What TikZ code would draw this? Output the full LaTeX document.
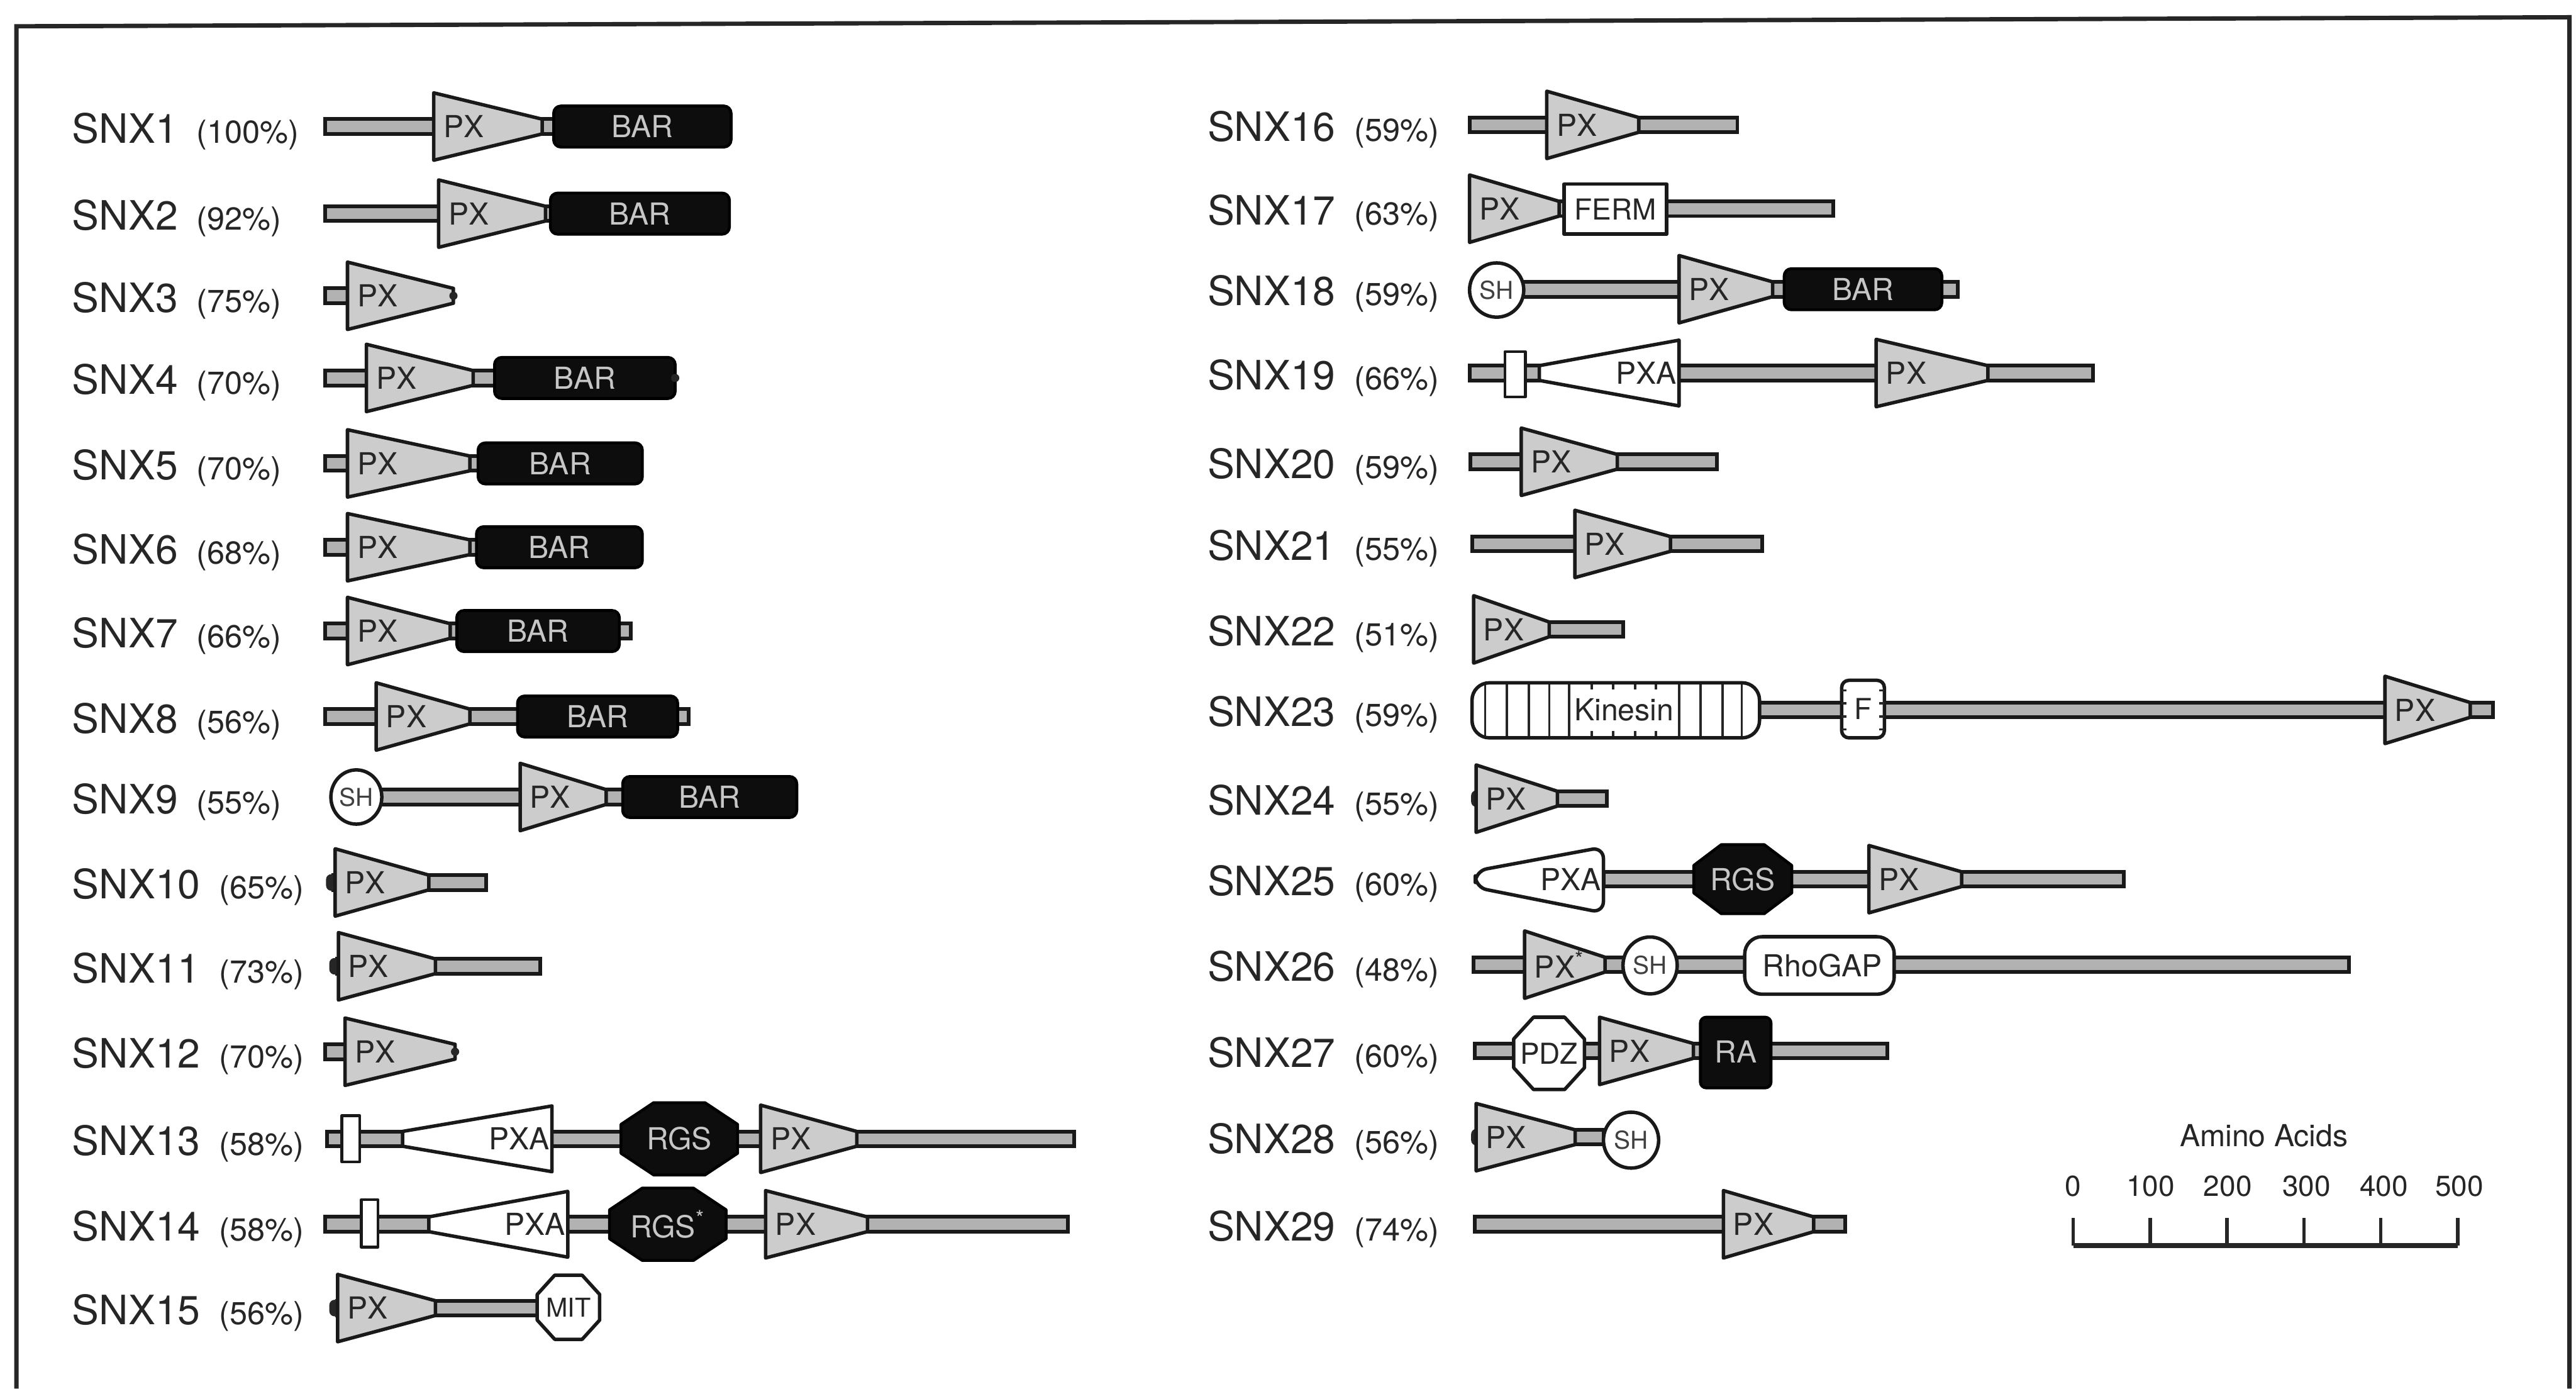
\documentclass[tikz,border=0pt]{standalone}
\usepackage{fontspec}
\setmainfont{TeX Gyre Heros}
\tikzset{
  every node/.style={inner sep=0pt, outer sep=0pt},
  frame/.style={line width=1.5pt, draw=black!85},
  rodst/.style={draw=black!90, fill=gray!60, line width=1.3pt},
  pxst/.style={draw=black!90, fill=gray!40, line width=1.2pt, line join=round},
  whitest/.style={draw=black!90, fill=white, line width=1.2pt, line join=round},
  blackst/.style={draw=black, fill=black!95, line width=1pt, line join=round},
  stubst/.style={fill=black!85, draw=black!85, line width=0.6pt},
  stripest/.style={line width=0.8pt, draw=black!85},
  dtxt/.style={font=\fontsize{10.5}{12}\selectfont, text=black!85},
  ltxt/.style={font=\fontsize{10.5}{12}\selectfont, text=gray!45},
  shtxt/.style={font=\fontsize{8.5}{10}\selectfont, text=black!75},
  labst/.style={anchor=base west, text=black!85},
  scalest/.style={line width=1.8pt, draw=black!85},
  tickst/.style={line width=1.2pt, draw=black!85},
  scaletxt/.style={font=\fontsize{10}{12}\selectfont, text=black!85},
}
% label
\newcommand\snxlab[4]{\node[labst] (#1) at (#2,#3+10) {\fontsize{14}{16}\selectfont #1\hspace{6.5pt}\fontsize{11}{13}\selectfont(#4\%)};}
% rod: x1 x2 y
\newcommand\rod[3]{\draw[rodst] (#1,#3-4.5) rectangle (#2,#3+4.5);}
% PX: x1 x2 y name text
\newcommand\pxd[5]{\draw[pxst] (#1,#3-20.5) -- (#2,#3-4.5) -- (#2,#3+4.5) -- (#1,#3+20.5) -- cycle;
  \node[dtxt, anchor=west] (#4) at (#1+6,#3) {#5};}
% PXA: x1 x2 y name
\newcommand\pxad[4]{\draw[whitest] (#1,#3-4.5) -- (#2,#3-20) -- (#2,#3+20) -- (#1,#3+4.5) -- cycle;
  \node[dtxt, anchor=east] (#4) at (#2-1.5,#3) {PXA};}
% BAR: x1 x2 y name
\newcommand\bard[4]{\draw[blackst, rounded corners=2.5pt] (#1,#3-12.5) rectangle (#2,#3+12.5);
  \node[ltxt] (#4) at ({(#1+#2)/2},#3) {BAR};}
% octagon: x1 x2 y h style textstyle name text
\newcommand\octd[8]{\draw[#5] ({#1+0.28*(#2-#1)},{#3-#4/2}) -- ({#2-0.28*(#2-#1)},{#3-#4/2}) -- (#2,{#3-0.2*#4}) -- (#2,{#3+0.2*#4}) -- ({#2-0.28*(#2-#1)},{#3+#4/2}) -- ({#1+0.28*(#2-#1)},{#3+#4/2}) -- (#1,{#3+0.2*#4}) -- (#1,{#3-0.2*#4}) -- cycle;
  \node[#6] (#7) at ({(#1+#2)/2},#3) {#8};}
% SH: cx cy rx ry name
\newcommand\shd[5]{\draw[whitest] (#1,#2) ellipse [x radius={#3*0.02cm}, y radius={#4*0.02cm}];
  \node[shtxt] (#5) at (#1,#2) {SH};}
% small vertical box: x1 x2 y1 y2
\newcommand\smallrect[4]{\draw[whitest, line width=1pt] (#1,#3) rectangle (#2,#4);}
% dark N-terminal stub: x y
\newcommand\stub[2]{\draw[stubst, rounded corners=1.5pt] (#1,#2-4.5) rectangle (#1+5,#2+4.5);}
\newcommand\tipdot[2]{\fill[black!85] (#1,#2) circle [radius=0.05cm];}

\begin{document}
\begin{tikzpicture}[x=0.02cm, y=-0.02cm]
\useasboundingbox (0,0) rectangle (1568,845);
\fill[white] (0,0) rectangle (1568,845);
\draw[frame] (10,845) -- (10,16) -- (1564,10.5) -- (1564,845);

% ---------------- left column ----------------
% SNX1
\snxlab{SNX1}{44}{77}{100}
\rod{198}{338}{77}
\pxd{264}{330}{77}{px1}{PX}
\bard{337}{445}{77}{bar1}
% SNX2
\snxlab{SNX2}{44}{130}{92}
\rod{198}{336}{130}
\pxd{267}{332}{130}{px2}{PX}
\bard{335}{444}{130}{bar2}
% SNX3
\snxlab{SNX3}{44}{180}{75}
\rod{198}{212}{180}
\pxd{211.5}{276}{180}{px3}{PX}
\tipdot{276}{180}
% SNX4
\snxlab{SNX4}{44}{230}{70}
\rod{198}{302}{230}
\pxd{223}{288}{230}{px4}{PX}
\bard{301}{411}{230}{bar4}
\tipdot{411}{230}
% SNX5
\snxlab{SNX5}{44}{282}{70}
\rod{198}{292}{282}
\pxd{211.5}{286}{282}{px5}{PX}
\bard{291}{391}{282}{bar5}
% SNX6
\snxlab{SNX6}{44}{333}{68}
\rod{198}{291}{333}
\pxd{211.5}{286}{333}{px6}{PX}
\bard{290}{391}{333}{bar6}
% SNX7
\snxlab{SNX7}{44}{384}{66}
\rod{198}{384}{384}
\pxd{211.5}{274}{384}{px7}{PX}
\bard{278}{377}{384}{bar7}
% SNX8
\snxlab{SNX8}{44}{436}{56}
\rod{198}{419}{436}
\pxd{229}{286}{436}{px8}{PX}
\bard{315}{412.5}{436}{bar8}
% SNX9
\snxlab{SNX9}{44}{485}{55}
\rod{217}{383}{485}
\shd{216.9}{485}{15.5}{16.5}{sh9}
\pxd{316.6}{369}{485}{px9}{PX}
\bard{379}{485}{485}{bar9}
% SNX10
\snxlab{SNX10}{44}{537}{65}
\rod{203}{296}{537}
\stub{199}{537}
\pxd{204}{261}{537}{px10}{PX}
% SNX11
\snxlab{SNX11}{44}{588}{73}
\rod{205}{329}{588}
\stub{201}{588}
\pxd{206}{265}{588}{px11}{PX}
% SNX12
\snxlab{SNX12}{44}{640}{70}
\rod{198}{211}{640}
\pxd{210}{277}{640}{px12}{PX}
\tipdot{277}{640}
% SNX13
\snxlab{SNX13}{44}{693}{58}
\rod{199}{654}{693}
\smallrect{208}{219}{679}{707}
\pxad{245}{336}{693}{pxa13}
\octd{378}{449}{693}{44}{blackst}{ltxt}{rgs13}{RGS}
\pxd{463}{521.5}{693}{px13}{PX}
% SNX14
\snxlab{SNX14}{44}{745}{58}
\rod{198}{650}{745}
\smallrect{220}{230}{730}{759}
\pxad{261}{345.6}{745}{pxa14}
\octd{371}{442}{745}{44}{blackst}{ltxt}{rgs14}{RGS\textsuperscript{*}}
\pxd{466}{528}{745}{px14}{PX}
% SNX15
\snxlab{SNX15}{44}{796}{56}
\rod{205}{346}{796}
\stub{201}{796}
\pxd{205.5}{265}{796}{px15}{PX}
\octd{327}{365}{795.5}{39}{whitest}{dtxt, font=\fontsize{9}{10}\selectfont}{mit15}{MIT}

% ---------------- right column ----------------
% SNX16
\snxlab{SNX16}{735}{76}{59}
\rod{894.5}{1057.5}{76}
\pxd{941.5}{997.5}{76}{px16}{PX}
% SNX17
\snxlab{SNX17}{735}{127}{63}
\rod{896}{1115.7}{127}
\pxd{894.5}{949}{127}{px17}{PX}
\draw[whitest] (952,112) rectangle (1014.5,142.5);
\node[dtxt, font=\fontsize{10}{12}\selectfont] (ferm17) at (983.3,127.3) {FERM};
% SNX18
\snxlab{SNX18}{735}{176}{59}
\rod{911}{1191.5}{176}
\shd{911}{176.5}{16.5}{16.5}{sh18}
\pxd{1022}{1079}{176}{px18}{PX}
\bard{1086}{1182}{176}{bar18}
% SNX19
\snxlab{SNX19}{735}{227}{66}
\rod{894.5}{1274}{227}
\smallrect{916}{928.5}{214}{241.5}
\pxad{937}{1022}{227}{pxa19}
\pxd{1142}{1210}{227}{px19}{PX}
% SNX20
\snxlab{SNX20}{735}{281}{59}
\rod{895}{1045}{281}
\pxd{926}{984.4}{281}{px20}{PX}
% SNX21
\snxlab{SNX21}{735}{331}{55}
\rod{896}{1072.7}{331}
\pxd{958.6}{1016.8}{331}{px21}{PX}
% SNX22
\snxlab{SNX22}{735}{383}{51}
\rod{899}{988}{383}
\pxd{897}{943}{383}{px22}{PX}
% SNX23
\snxlab{SNX23}{735}{432}{59}
\rod{1060}{1517.4}{432}
\begin{scope}
  \clip[rounded corners=6pt] (896,415.5) rectangle (1071,449);
  \fill[white] (896,415.5) rectangle (1071,449);
  \foreach \xs in {904,917.3,930.6,943,955,1022,1035,1048.4,1060.2}
    \draw[stripest] (\xs,415.5) -- (\xs,449);
  \foreach \xs in {968.9,982,995.4,1008} {
    \draw[stripest] (\xs,415.5) -- (\xs,419.5);
    \draw[stripest] (\xs,445) -- (\xs,449);}
\end{scope}
\draw[draw=black!90, line width=1.2pt, rounded corners=6pt] (896,415.5) rectangle (1071,449);
\node[dtxt] (kin23) at (988.5,432) {Kinesin};
\draw[whitest, rounded corners=2.5pt] (1121,414) rectangle (1147,449);
\foreach \ys in {420,428,436,444} {
  \draw[line width=0.7pt, black!85] (1121,\ys) -- (1124,\ys);
  \draw[line width=0.7pt, black!85] (1144,\ys) -- (1147,\ys);}
\node[dtxt, font=\fontsize{10}{12}\selectfont] (f23) at (1134,431.5) {F};
\pxd{1451.7}{1503.6}{432}{px23}{PX}
% SNX24
\snxlab{SNX24}{735}{486}{55}
\rod{899}{978}{486}
\stub{896}{486}
\pxd{898.5}{948}{486}{px24}{PX}
% SNX25
\snxlab{SNX25}{735}{535}{60}
\rod{976}{1292.7}{535}
\draw[whitest, rounded corners=4pt] (898,530) -- (976,515.5) -- (976,555.5) -- (898,540) -- cycle;
\node[dtxt, anchor=east] (pxa25) at (974.5,535) {PXA};
\octd{1031}{1090.6}{535}{42}{blackst}{ltxt}{rgs25}{RGS}
\pxd{1137.6}{1194}{535}{px25}{PX}
% SNX26
\snxlab{SNX26}{735}{587}{48}
\rod{897}{1429.7}{587}
\pxd{928}{977}{587}{px26}{PX\textsuperscript{*}}
\shd{1004.4}{587.5}{16.5}{17.3}{sh26}
\draw[whitest, rounded corners=6pt] (1062,570) rectangle (1153,605);
\node[dtxt, anchor=west] (rhogap26) at (1073,587.5) {RhoGAP};
% SNX27
\snxlab{SNX27}{735}{639.5}{60}
\rod{897.5}{1148.7}{639.5}
\octd{921.4}{964.4}{641}{44}{whitest}{dtxt, font=\fontsize{10}{12}\selectfont}{pdz27}{PDZ}
\pxd{973.6}{1030.8}{639.5}{px27}{PX}
\draw[blackst, rounded corners=2pt] (1035,619) rectangle (1078,662);
\node[ltxt] (ra27) at (1056.5,640) {RA};
% SNX28
\snxlab{SNX28}{735}{692}{56}
\rod{899}{976}{692}
\stub{896}{692}
\pxd{898.5}{958.8}{692}{px28}{PX}
\shd{992.8}{693.8}{16.8}{17}{sh28}
% SNX29
\snxlab{SNX29}{735}{745}{74}
\rod{897.5}{1123}{745}
\pxd{1049}{1104}{745}{px29}{PX}

% ---------------- scale ----------------
\node[scaletxt, font=\fontsize{10.5}{12}\selectfont] (aa) at (1378,691) {Amino Acids};
\coordinate (s0) at (1262,758);
\coordinate (s1) at (1308.8,758);
\coordinate (s2) at (1355.6,758);
\coordinate (s3) at (1402.4,758);
\coordinate (s4) at (1449.2,758);
\coordinate (s5) at (1496,758);
\foreach \k in {0,...,5} \draw[tickst] (s\k) -- ++(0,-17);
\draw[scalest] (s0) -- (s5);
\node[scaletxt] (t0) at (1262,722) {0};
\node[scaletxt] (t1) at (1309,722) {100};
\node[scaletxt] (t2) at (1356,722) {200};
\node[scaletxt] (t3) at (1404,722) {300};
\node[scaletxt] (t4) at (1451,722) {400};
\node[scaletxt] (t5) at (1497,722) {500};
\end{tikzpicture}
\end{document}
